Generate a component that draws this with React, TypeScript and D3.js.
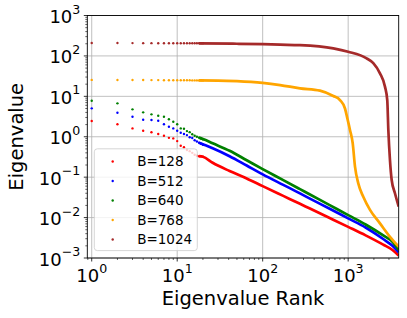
import React from "react";
import * as d3 from "d3";

const W = 407;
const H = 318;
const M = { left: 87.3, right: 398.7, top: 15.5, bottom: 258 };

const xDomain = [0.888, 3900];
const yDomain = [1e-3, 1e3];

const seriesLabels = ["B=128", "B=512", "B=640", "B=768", "B=1024"];
const seriesColors = ["#ff0000", "#0000ff", "#008000", "#ffa500", "#a52a2a"];

// Individually visible eigenvalues at the first ranks
const dotRanks = [1, 2, 3, 4, 5, 6, 7, 8, 9, 10, 11, 12, 13, 14, 15, 16, 17, 18, 19, 20];
const b128Dots = [2.45, 2.03, 1.61, 1.41, 1.29, 1.17, 1.06, 0.94, 0.91, 0.78, 0.6, 0.55, 0.47, 0.44, 0.4, 0.36, 0.34, 0.33, 0.33, 0.32];
const b512Dots = [5.05, 3.93, 3.12, 2.64, 2.59, 2.49, 2.03, 1.77, 1.61, 1.41, 1.26, 1.17, 1.1, 0.97, 0.93, 0.82, 0.76, 0.71, 0.67, 0.63];
const b640Dots = [7.78, 6.71, 4.77, 4.02, 3.58, 3.31, 3.12, 2.7, 2.35, 2.03, 1.61, 1.58, 1.38, 1.3, 1.15, 1.06, 1.0, 0.95, 0.9, 0.86];
const b768Dots = [25.5, 25.4, 25.3, 25.3, 25.2, 25.2, 25.1, 25.1, 25.0, 25.0, 25.0, 24.9, 24.9, 24.9, 24.8, 24.8, 24.8, 24.7, 24.7, 24.7];
const b1024Dots = [209, 208, 207.5, 207, 207, 206.5, 206.5, 206, 206, 206, 205.5, 205.5, 205.5, 205, 205, 205, 205, 205, 205, 204.5];

// Dense part of each spectrum (ranks)
const tailRanks = [18, 20, 26, 41, 65, 100, 174, 273, 357, 600, 1000, 1600, 2570, 3300, 3900];
const b128Tail = [0.33, 0.32, 0.227, 0.142, 0.093, 0.06, 0.0344, 0.0219, 0.0167, 0.00989, 0.00589, 0.00363, 0.00214, 0.00158, 0.00115];
const b512Tail = [0.71, 0.65, 0.52, 0.33, 0.194, 0.1175, 0.0646, 0.0398, 0.0295, 0.0168, 0.00955, 0.00569, 0.00295, 0.002, 0.00138];
const b640Tail = [0.95, 0.88, 0.687, 0.45, 0.262, 0.158, 0.0843, 0.0505, 0.0372, 0.0206, 0.0115, 0.00676, 0.00363, 0.00251, 0.00158];

const b768TailRanks = [18, 30, 50, 100, 160, 273, 468, 670, 802, 918, 980, 1050, 1130, 1203, 1313, 1502, 1800, 2354, 3083, 3900];
const b768Tail = [24.7, 24.6, 23.8, 21.5, 19.0, 15.8, 13.8, 10.2, 8.1, 5.0, 2.8, 1.47, 0.69, 0.18, 0.07, 0.0327, 0.0155, 0.0072, 0.00335, 0.0019];

const b1024TailRanks = [18, 50, 100, 160, 273, 670, 1000, 1644, 1967, 2354, 2694, 2866, 2950, 3083, 3228, 3525, 3900];
const b1024Tail = [205, 200, 195, 190, 185, 154, 127, 87, 66, 37, 17.4, 8.1, 1.47, 0.265, 0.085, 0.04, 0.0186];

const xTickExps = [0, 1, 2, 3];
const yTickExps = [-3, -2, -1, 0, 1, 2, 3];

const FONT = "DejaVu Sans, sans-serif";

function expLabel(e: number) {
  return e < 0 ? "\u2212" + Math.abs(e) : String(e);
}

export default function App() {
  const x = d3.scaleLog().domain(xDomain).range([M.left, M.right]);
  const y = d3.scaleLog().domain(yDomain).range([M.bottom, M.top]);

  const dots = [b128Dots, b512Dots, b640Dots, b768Dots, b1024Dots];
  const tails: [number[], number[]][] = [
    [tailRanks, b128Tail],
    [tailRanks, b512Tail],
    [tailRanks, b640Tail],
    [b768TailRanks, b768Tail],
    [b1024TailRanks, b1024Tail],
  ];

  const line = d3
    .line<[number, number]>()
    .x((d) => x(d[0]))
    .y((d) => y(d[1]))
    .curve(d3.curveMonotoneX);

  const xMinor: number[] = [];
  for (let e = -1; e <= 3; e++) {
    for (let k = 2; k <= 9; k++) {
      const v = k * Math.pow(10, e);
      if (v >= xDomain[0] && v <= xDomain[1]) xMinor.push(v);
    }
  }
  const yMinor: number[] = [];
  for (let e = -3; e < 3; e++) {
    for (let k = 2; k <= 9; k++) yMinor.push(k * Math.pow(10, e));
  }

  const legX = 94.3;
  const legY = 148.8;
  const legW = 103;
  const legH = 101.8;
  const rowY0 = 161.5;
  const rowDy = 19.5;

  return (
    <svg
      width={W}
      height={H}
      style={{ position: "absolute", left: 0, top: 0, background: "#fff" }}
      fontFamily={FONT}
    >
      <defs>
        <clipPath id="plotclip">
          <rect x={M.left} y={M.top} width={M.right - M.left} height={M.bottom - M.top} />
        </clipPath>
      </defs>
      <rect x={0} y={0} width={W} height={H} fill="#fff" />

      {/* grid */}
      <g stroke="#b0b0b0" strokeWidth={0.8}>
        {xTickExps.map((e) => (
          <line key={"gx" + e} x1={x(Math.pow(10, e))} x2={x(Math.pow(10, e))} y1={M.top} y2={M.bottom} />
        ))}
        {yTickExps.map((e) => (
          <line key={"gy" + e} x1={M.left} x2={M.right} y1={y(Math.pow(10, e))} y2={y(Math.pow(10, e))} />
        ))}
      </g>

      {/* data */}
      <g clipPath="url(#plotclip)">
        {seriesColors.map((c, i) => (
          <g key={"s" + i}>
            <path
              d={line(tails[i][0].map((r, j) => [r, tails[i][1][j]] as [number, number])) || ""}
              fill="none"
              stroke={c}
              strokeWidth={2.7}
              strokeLinejoin="round"
            />
            {dotRanks.map((r, j) => (
              <circle key={j} cx={x(r)} cy={y(dots[i][j])} r={1.2} fill={c} />
            ))}
          </g>
        ))}
      </g>

      {/* legend */}
      <rect x={legX} y={legY} width={legW} height={legH} rx={3} fill="#fff" fillOpacity={0.8} stroke="#cccccc" strokeWidth={0.8} />
      {seriesLabels.map((s, i) => (
        <g key={"l" + i}>
          <circle cx={112.7} cy={rowY0 + i * rowDy} r={1.2} fill={seriesColors[i]} />
          <text x={137.2} y={rowY0 + i * rowDy + 4.9} fontSize={13.5} fill="#000">
            {s}
          </text>
        </g>
      ))}

      {/* spines */}
      <rect x={M.left} y={M.top} width={M.right - M.left} height={M.bottom - M.top} fill="none" stroke="#000" strokeWidth={0.9} />

      {/* ticks */}
      <g stroke="#000" strokeWidth={0.8}>
        {xTickExps.map((e) => (
          <line key={"xt" + e} x1={x(Math.pow(10, e))} x2={x(Math.pow(10, e))} y1={M.bottom} y2={M.bottom + 3.5} />
        ))}
        {xMinor.map((v, i) => (
          <line key={"xm" + i} x1={x(v)} x2={x(v)} y1={M.bottom} y2={M.bottom + 2} strokeWidth={0.6} />
        ))}
        {yTickExps.map((e) => (
          <line key={"yt" + e} x1={M.left - 3.5} x2={M.left} y1={y(Math.pow(10, e))} y2={y(Math.pow(10, e))} />
        ))}
        {yMinor.map((v, i) => (
          <line key={"ym" + i} x1={M.left - 2} x2={M.left} y1={y(v)} y2={y(v)} strokeWidth={0.6} />
        ))}
      </g>

      {xTickExps.map((e) => (
        <text key={"xl" + e} x={x(Math.pow(10, e))} y={282} fontSize={18} textAnchor="middle" fill="#000">
          10
          <tspan dy={-9.5} fontSize={12.6}>
            {expLabel(e)}
          </tspan>
        </text>
      ))}
      {yTickExps.map((e) => (
        <text key={"yl" + e} x={80.3} y={y(Math.pow(10, e)) + 7.5} fontSize={18} textAnchor="end" fill="#000">
          10
          <tspan dy={-9.5} fontSize={12.6}>
            {expLabel(e)}
          </tspan>
        </text>
      ))}

      <text x={(M.left + M.right) / 2} y={305} fontSize={19.5} textAnchor="middle" fill="#000">
        Eigenvalue Rank
      </text>
      <text
        transform={`translate(23,${(M.top + M.bottom) / 2}) rotate(-90)`}
        fontSize={19.5}
        textAnchor="middle"
        fill="#000"
      >
        Eigenvalue
      </text>
    </svg>
  );
}
